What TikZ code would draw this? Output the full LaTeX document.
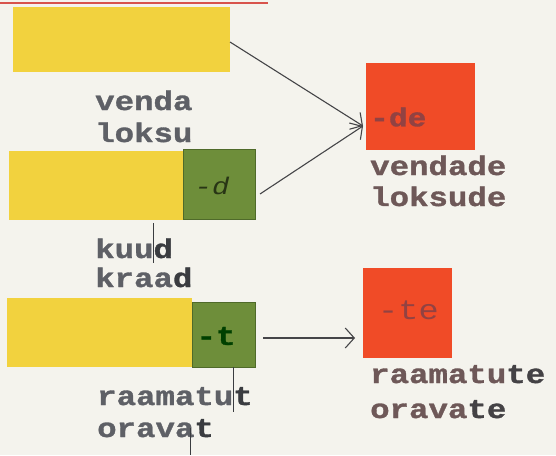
\documentclass[tikz,border=0pt]{standalone}
\usepackage{fontspec}
\usetikzlibrary{arrows.meta}
\newfontfamily\typew[FakeStretch=1.2]{Liberation Mono}
\newfontfamily\typewb[FakeStretch=1.2, FakeBold=1.2]{Liberation Mono}
\definecolor{bg}{HTML}{F4F3ED}
\definecolor{yel}{HTML}{F2D23E}
\definecolor{grn}{HTML}{6E8E3A}
\definecolor{grnline}{HTML}{4F6A2A}
\definecolor{redb}{HTML}{F04B27}
\definecolor{topline}{HTML}{D8534C}
\definecolor{leftgray}{HTML}{5E6066}
\definecolor{rightbrown}{HTML}{6E5858}
\definecolor{endcol}{HTML}{3A3C40}
\definecolor{arrowcol}{HTML}{454548}
\tikzset{
  x=1pt, y=-1pt,
  yelbox/.style={fill=yel, draw=none},
  grnbox/.style={fill=grn, draw=grnline, line width=0.6pt},
  redbox/.style={fill=redb, draw=none},
  word/.style={anchor=base west, inner sep=0pt, font=\typewb\bfseries\fontsize{27}{30}\selectfont},
  lword/.style={word, text=leftgray},
  rword/.style={word, text=rightbrown},
  conn/.style={draw=arrowcol, line width=1.1pt, -{Straight Barb[length=9pt,width=20pt,line width=1.1pt]}},
  endmark/.style={draw=endcol, line width=0.9pt},
}
\begin{document}
\begin{tikzpicture}
\fill[bg] (0,0) rectangle (556,455);
\useasboundingbox (0,0) rectangle (556,455);
\draw[topline, line width=1.5pt] (0,3) -- (268,3);

% row 1
\node[yelbox, minimum width=217pt, minimum height=65pt, anchor=north west] (y1) at (13,7) {};
\node[lword] (w1a) at (95,110) {venda};
\node[lword] (w1b) at (95,142) {loksu};

% row 2
\node[yelbox, minimum width=174pt, minimum height=69pt, anchor=north west] (y2) at (9,151) {};
\node[grnbox, minimum width=72pt, minimum height=70pt, anchor=north west] (g2) at (183,149) {};
\node[text=grnline!50!black, font=\typew\itshape\fontsize{24}{26}\selectfont, inner sep=0pt] (d2) at (212,186) {-d};
\node[lword] (w2a) at (95,258) {kuu\textcolor{endcol}{d}};
\node[lword] (w2b) at (95,287) {kraa\textcolor{endcol}{d}};
\coordinate (m1a) at (153,223);
\coordinate (m1b) at (153,263);
\draw[endmark] (m1a) -- (m1b);

% row 3
\node[yelbox, minimum width=185pt, minimum height=69pt, anchor=north west] (y3) at (7,298) {};
\node[grnbox, minimum width=63pt, minimum height=65pt, anchor=north west] (g3) at (192,302) {};
\node[text=green!25!black, font=\typewb\bfseries\fontsize{27}{28}\selectfont, inner sep=0pt] (t3) at (216,336) {-t};
\node[lword] (w3a) at (97,405) {raamatu\textcolor{endcol}{t}};
\node[lword] (w3b) at (97,437) {orava\textcolor{endcol}{t}};
\coordinate (m2a) at (233,367);
\coordinate (m2b) at (233,412);
\coordinate (m3a) at (190,428);
\coordinate (m3b) at (190,455);
\draw[endmark] (m2a) -- (m2b);
\draw[endmark] (m3a) -- (m3b);

% right column
\node[redbox, minimum width=109pt, minimum height=87pt, anchor=north west] (r1) at (366,63) {};
\node[text=rightbrown!75!red, font=\typewb\bfseries\fontsize{26}{26}\selectfont, inner sep=0pt, anchor=west] (de) at (370,117) {-de};
\node[rword] (v1a) at (370,175) {vendade};
\node[rword] (v1b) at (370,206) {loksude};

\node[redbox, minimum width=89pt, minimum height=90pt, anchor=north west] (r2) at (363,268) {};
\node[text=rightbrown!75!red, font=\typew\fontsize{28}{28}\selectfont, inner sep=0pt, anchor=west] (te) at (378,310) {-te};
\node[rword] (v2a) at (370,383) {raamatu\textcolor{endcol!80!rightbrown}{te}};
\node[rword] (v2b) at (370,418) {orava\textcolor{endcol!80!rightbrown}{te}};

% connectors
\coordinate (a1s) at (230,42);
\coordinate (a2s) at (260,194);
\coordinate (tip1) at (363,126);
\coordinate (a3s) at (263,338);
\coordinate (tip3) at (355,338);
\draw[conn] (a1s) -- (tip1);
\draw[conn] (a2s) -- (tip1);
\draw[conn] (a3s) -- (tip3);
\end{tikzpicture}
\end{document}
